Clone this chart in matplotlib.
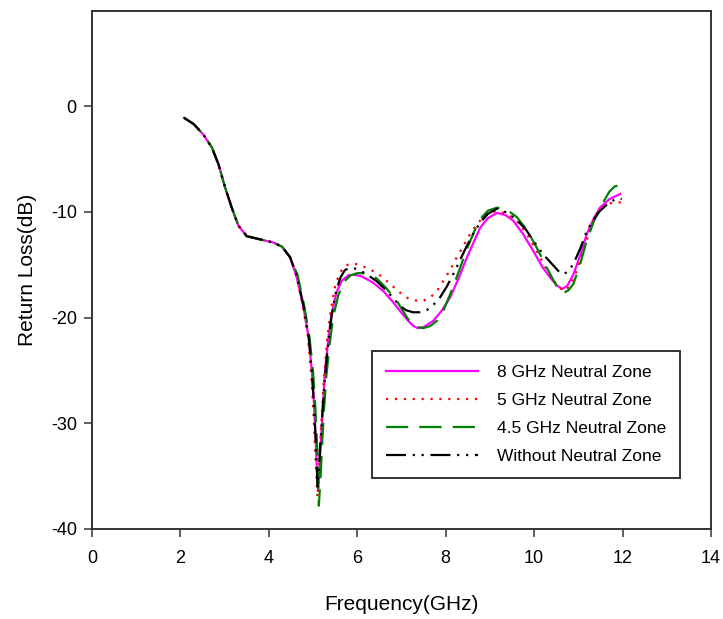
import matplotlib
matplotlib.use("Agg")
import matplotlib.pyplot as plt

# Shared part of all curves (below ~4.5 GHz the four traces overlap).
f_start = [2.08, 2.3, 2.52, 2.71, 2.86, 3.01, 3.16, 3.31, 3.5, 3.8, 4.1, 4.3, 4.48]
s_start = [-1.1, -1.7, -2.7, -3.9, -5.5, -7.7, -9.6, -11.3, -12.3, -12.6, -12.9, -13.3, -14.3]

# 8 GHz neutral zone
f_8ghz = f_start + [4.63, 4.78, 4.9, 4.97, 5.02, 5.07, 5.11, 5.14, 5.18, 5.22, 5.27, 5.35, 5.42,
                    5.53, 5.65, 5.8, 5.95, 6.1, 6.36, 6.59, 6.8, 6.97, 7.15, 7.27, 7.37, 7.5,
                    7.72, 7.9, 8.1, 8.3, 8.48, 8.65, 8.78, 8.95, 9.16, 9.35, 9.53, 9.75, 9.98,
                    10.2, 10.36, 10.5, 10.63, 10.75, 10.89, 11.05, 11.19, 11.35, 11.49, 11.7, 11.95]
s_8ghz = s_start + [-16.2, -19.0, -21.9, -25.0, -28.1, -32.8, -36.3, -34.5, -31.5, -28.5, -25.0, -21.8, -19.6,
                    -17.6, -16.5, -16.0, -15.95, -16.1, -16.7, -17.5, -18.5, -19.4, -20.3, -20.8, -21.0, -20.9,
                    -20.3, -19.4, -18.1, -16.2, -14.3, -12.7, -11.5, -10.6, -10.1, -10.3, -10.85, -12.1, -13.7,
                    -15.3, -16.2, -16.9, -17.3, -17.0, -15.9, -14.0, -12.1, -10.6, -9.6, -8.8, -8.3]

# 5 GHz neutral zone
f_5ghz = f_start + [4.62, 4.76, 4.88, 4.95, 5.0, 5.05, 5.1, 5.13, 5.16, 5.2, 5.25, 5.32, 5.4, 5.5,
                    5.6, 5.72, 5.85, 5.95, 6.15, 6.36, 6.55, 6.74, 6.9, 7.04, 7.2, 7.35, 7.5, 7.65,
                    7.8, 7.95, 8.1, 8.25, 8.4, 8.55, 8.7, 8.85, 9.0, 9.16, 9.4, 9.61, 9.85, 10.06,
                    10.25, 10.44, 10.58, 10.7, 10.82, 10.96, 11.1, 11.23, 11.33, 11.42, 11.53, 11.64,
                    11.8, 12.0]
s_5ghz = s_start + [-15.9, -18.7, -21.7, -25.0, -28.3, -32.8, -37.0, -35.0, -32.0, -29.0, -25.5, -22.0, -19.3, -17.0,
                    -15.8, -15.1, -14.9, -14.9, -15.2, -15.6, -16.1, -16.8, -17.4, -17.9, -18.3, -18.4, -18.4, -18.1,
                    -17.5, -16.5, -15.5, -14.3, -13.2, -12.1, -11.2, -10.5, -10.1, -9.9, -10.2, -10.85, -12.2, -13.7,
                    -15.2, -16.5, -17.2, -17.5, -16.9, -15.6, -13.9, -12.1, -11.0, -10.2, -9.7, -9.3,
                    -9.1, -9.1]

# 4.5 GHz neutral zone
f_45ghz = f_start + [4.65, 4.8, 4.92, 5.0, 5.05, 5.1, 5.13, 5.17, 5.21, 5.25, 5.3, 5.38, 5.46, 5.57,
                     5.7, 5.85, 6.0, 6.13, 6.3, 6.44, 6.65, 6.89, 7.05, 7.19, 7.35, 7.49, 7.65, 7.8,
                     7.95, 8.1, 8.3, 8.48, 8.65, 8.78, 8.95, 9.16, 9.4, 9.61, 9.85, 10.06, 10.25,
                     10.44, 10.55, 10.66, 10.78, 10.89, 11.05, 11.19, 11.35, 11.49, 11.7, 11.82, 11.9, 11.97]
s_45ghz = s_start + [-16.0, -18.9, -21.9, -25.2, -28.5, -33.0, -37.8, -35.0, -31.5, -28.5, -25.5, -22.3, -19.8, -17.9,
                     -16.6, -16.0, -15.8, -15.8, -16.0, -16.3, -17.2, -18.4, -19.5, -20.4, -20.9, -21.0, -20.8, -20.3,
                     -19.3, -17.8, -15.6, -13.5, -11.8, -10.7, -9.9, -9.6, -9.85, -10.5, -11.8, -13.4, -15.0,
                     -16.5, -17.3, -17.7, -17.4, -16.8, -14.8, -12.7, -10.9, -9.6, -8.1, -7.6, -7.5, -7.7]

# Without neutral zone
f_none = f_start + [4.63, 4.78, 4.9, 4.97, 5.02, 5.07, 5.1, 5.13, 5.17, 5.22, 5.27, 5.35, 5.42, 5.52,
                    5.62, 5.72, 5.84, 6.0, 6.21, 6.45, 6.67, 6.97, 7.1, 7.26, 7.4, 7.57, 7.72, 7.87,
                    8.02, 8.17, 8.33, 8.48, 8.63, 8.78, 8.95, 9.16, 9.4, 9.61, 9.8, 9.98, 10.2, 10.44,
                    10.55, 10.66, 10.78, 10.89, 11.05, 11.19, 11.35, 11.49, 11.7, 11.9, 11.98]
s_none = s_start + [-16.0, -18.8, -21.8, -25.0, -28.2, -32.5, -36.0, -34.5, -31.5, -28.5, -25.5, -22.2, -19.8, -17.5,
                    -16.2, -15.5, -15.3, -15.4, -15.9, -16.6, -17.5, -18.9, -19.3, -19.5, -19.5, -19.3, -18.8, -18.1,
                    -17.1, -15.9, -14.5, -13.2, -12.0, -11.0, -10.2, -9.7, -10.1, -10.8, -11.6, -12.7, -14.0, -15.1,
                    -15.6, -15.9, -15.6, -14.9, -13.4, -11.8, -10.7, -9.9, -9.1, -8.7, -8.8]

labels = ["8 GHz Neutral Zone", "5 GHz Neutral Zone", "4.5 GHz Neutral Zone", "Without Neutral Zone"]

plt.rcParams["font.family"] = ["Liberation Sans", "DejaVu Sans"]
plt.rcParams["axes.unicode_minus"] = False

fig = plt.figure(figsize=(7.23, 6.19), dpi=100)
ax = fig.add_axes([0.1273, 0.1454, 0.8561, 0.8368])

ax.plot(f_8ghz, s_8ghz, color="#ff00ff", lw=1.6, ls="-", label=labels[0])
ax.plot(f_5ghz, s_5ghz, color="#ff0000", lw=1.6, ls=(0, (1, 3)), label=labels[1])
ax.plot(f_45ghz, s_45ghz, color="#008000", lw=1.6, ls=(0, (10, 5)), label=labels[2])
ax.plot(f_none, s_none, color="black", lw=1.6, ls=(0, (9, 3, 1, 3, 1, 3)), label=labels[3])

ax.set_xlim(0, 14)
ax.set_ylim(-40, 9)
ax.set_xticks(range(0, 15, 2))
ax.set_yticks([0, -10, -20, -30, -40])
ax.tick_params(direction="out", length=6, width=1.2, labelsize=13, top=False, right=False, color="#444444")
ax.tick_params(axis="x", pad=9)
ax.tick_params(axis="y", pad=5)
for sp in ax.spines.values():
    sp.set_linewidth(1.4)
    sp.set_color("#333333")

ax.set_xlabel("Frequency(GHz)", fontsize=15, labelpad=20)
ax.set_ylabel("Return Loss(dB)", fontsize=15, labelpad=10)

leg = ax.legend(loc="lower left", bbox_to_anchor=(0.452, 0.098), borderaxespad=0, fontsize=12.5,
                frameon=True, fancybox=False, edgecolor="black", handlelength=5.3, handletextpad=1.1,
                labelspacing=0.75, borderpad=0.8)
leg.get_frame().set_linewidth(1.4)

fig.savefig("out.png", dpi=100)
